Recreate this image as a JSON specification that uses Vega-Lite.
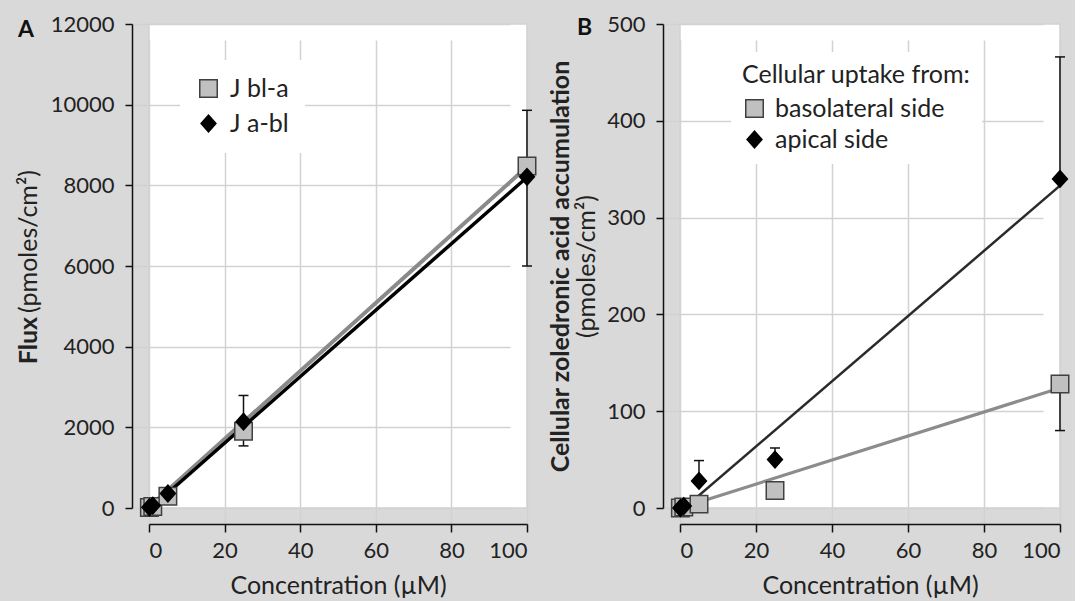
{
  "$schema": "https://vega.github.io/schema/vega-lite/v6.json",
  "background": "#d9d9d9",
  "padding": {"left": 15, "top": 12, "right": 2, "bottom": 2},
  "spacing": 7,
  "resolve": {"scale": {"shape": "independent", "fill": "independent", "stroke": "independent"}},
  "datasets": {
    "ptsA": [
      {"series": "J bl-a", "conc": 0.1, "value": 10, "err": null},
      {"series": "J bl-a", "conc": 1, "value": 40, "err": null},
      {"series": "J bl-a", "conc": 5, "value": 290, "err": null},
      {"series": "J bl-a", "conc": 25, "value": 1900, "err": 1540},
      {"series": "J bl-a", "conc": 100, "value": 8480, "err": 6000},
      {"series": "J a-bl", "conc": 0.1, "value": 20, "err": null},
      {"series": "J a-bl", "conc": 1, "value": 60, "err": null},
      {"series": "J a-bl", "conc": 5, "value": 360, "err": null},
      {"series": "J a-bl", "conc": 25, "value": 2140, "err": 2790},
      {"series": "J a-bl", "conc": 100, "value": 8210, "err": 9860}
    ],
    "fitA": [
      {"series": "J bl-a", "conc": 0.1, "value": 30},
      {"series": "J bl-a", "conc": 100, "value": 8460},
      {"series": "J a-bl", "conc": 0.1, "value": -30},
      {"series": "J a-bl", "conc": 100, "value": 8200}
    ],
    "ptsB": [
      {"series": "basolateral side", "conc": 0.1, "value": 0, "err": null},
      {"series": "basolateral side", "conc": 1, "value": 1, "err": null},
      {"series": "basolateral side", "conc": 5, "value": 4, "err": null},
      {"series": "basolateral side", "conc": 25, "value": 18, "err": null},
      {"series": "basolateral side", "conc": 100, "value": 128, "err": 80},
      {"series": "apical side", "conc": 0.1, "value": 0, "err": null},
      {"series": "apical side", "conc": 1, "value": 2, "err": null},
      {"series": "apical side", "conc": 5, "value": 28, "err": 49},
      {"series": "apical side", "conc": 25, "value": 50, "err": 62},
      {"series": "apical side", "conc": 100, "value": 340, "err": 466}
    ],
    "fitB": [
      {"series": "basolateral side", "conc": 0.1, "value": 0},
      {"series": "basolateral side", "conc": 100, "value": 124},
      {"series": "apical side", "conc": 0.1, "value": -3.5},
      {"series": "apical side", "conc": 100, "value": 333}
    ]
  },
  "hconcat": [
    {
      "width": 378,
      "height": 484,
      "title": {"text": "A", "anchor": "start", "frame": "bounds", "fontSize": 23, "fontWeight": "bold", "font": "Lato", "color": "#111", "baseline": "top", "offset": -22, "dx": 2, "dy": 7},
      "resolve": {"axis": {"y": "independent"}},
      "layer": [
        {
          "encoding": {
            "x": {"field": "conc", "type": "quantitative", "scale": {"domain": [0, 100], "nice": false}, "axis": {"values": [0, 20, 40, 60, 80, 100], "title": "Concentration (µM)"}},
            "y": {"field": "value", "type": "quantitative", "scale": {"domain": [0, 12000], "nice": false}, "axis": {"orient": "left", "values": [0, 2000, 4000, 6000, 8000, 10000, 12000], "format": "d", "title": "(pmoles/cm²)", "titleX": -91, "titleY": 217}}
          },
          "layer": [
            {"data": {"name": "fitA"}, "transform": [{"filter": "datum.series === 'J bl-a'"}], "mark": {"type": "line", "color": "#8a8a8a", "strokeWidth": 4, "clip": false}},
            {"data": {"name": "fitA"}, "transform": [{"filter": "datum.series === 'J a-bl'"}], "mark": {"type": "line", "color": "#000000", "strokeWidth": 3.5, "clip": false}},
            {"data": {"name": "ptsA"}, "transform": [{"filter": "datum.err != null"}], "mark": {"type": "rule", "color": "#111", "strokeWidth": 1.5}, "encoding": {"y2": {"field": "err"}}},
            {"data": {"name": "ptsA"}, "transform": [{"filter": "datum.err != null"}], "mark": {"type": "tick", "orient": "horizontal", "size": 10, "thickness": 1.5, "color": "#111", "opacity": 1}, "encoding": {"y": {"field": "err", "type": "quantitative"}}},
            {
              "data": {"name": "ptsA"},
              "mark": {"type": "point", "filled": true, "opacity": 1, "strokeWidth": 1.5, "size": 306, "clip": false},
              "encoding": {
                "shape": {"field": "series", "type": "nominal", "scale": {"domain": ["J bl-a", "J a-bl"], "range": ["square", "M-0.85,0L0,-0.95L0.85,0L0,0.95Z"]}, "legend": {"title": null, "orient": "none", "legendX": 31, "legendY": 36, "fillColor": "white", "padding": 16, "symbolSize": 306, "symbolStrokeWidth": 1.5, "rowPadding": 9, "labelOffset": 9, "labelLimit": 300}},
                "fill": {"field": "series", "type": "nominal", "scale": {"domain": ["J bl-a", "J a-bl"], "range": ["#c0c0c0", "#000000"]}},
                "stroke": {"field": "series", "type": "nominal", "scale": {"domain": ["J bl-a", "J a-bl"], "range": ["#404040", "#000000"]}}
              }
            }
          ]
        },
        {
          "data": {"name": "ptsA"},
          "mark": {"type": "point", "opacity": 0},
          "encoding": {
            "x": {"field": "conc", "type": "quantitative", "scale": {"domain": [0, 100], "nice": false}, "axis": {"values": [0, 20, 40, 60, 80, 100], "title": "Concentration (µM)"}},
            "y": {"field": "value", "type": "quantitative", "scale": {"domain": [0, 12000], "nice": false}, "axis": {"orient": "left", "title": "Flux", "titleFontWeight": "bold", "labels": false, "ticks": false, "domain": false, "grid": false, "titleX": -91, "titleY": 316}}
          }
        }
      ]
    },
    {
      "width": 380,
      "height": 484,
      "title": {"text": "B", "anchor": "start", "frame": "bounds", "fontSize": 23, "fontWeight": "bold", "font": "Lato", "color": "#111", "baseline": "top", "offset": -22, "dx": 29, "dy": 5},
      "resolve": {"axis": {"y": "independent"}},
      "layer": [
        {
          "encoding": {
            "x": {"field": "conc", "type": "quantitative", "scale": {"domain": [0, 100], "nice": false}, "axis": {"values": [0, 20, 40, 60, 80, 100], "title": "Concentration (µM)"}},
            "y": {"field": "value", "type": "quantitative", "scale": {"domain": [0, 500], "nice": false}, "axis": {"orient": "left", "values": [0, 100, 200, 300, 400, 500], "title": "(pmoles/cm²)", "titleX": -64}}
          },
          "layer": [
            {"data": {"name": "fitB"}, "transform": [{"filter": "datum.series === 'basolateral side'"}], "mark": {"type": "line", "color": "#8c8c8c", "strokeWidth": 3.2, "clip": false}},
            {"data": {"name": "fitB"}, "transform": [{"filter": "datum.series === 'apical side'"}], "mark": {"type": "line", "color": "#2a2a2a", "strokeWidth": 2.5, "clip": false}},
            {"data": {"name": "ptsB"}, "transform": [{"filter": "datum.err != null"}], "mark": {"type": "rule", "color": "#111", "strokeWidth": 1.5}, "encoding": {"y2": {"field": "err"}}},
            {"data": {"name": "ptsB"}, "transform": [{"filter": "datum.err != null"}], "mark": {"type": "tick", "orient": "horizontal", "size": 10, "thickness": 1.5, "color": "#111", "opacity": 1}, "encoding": {"y": {"field": "err", "type": "quantitative"}}},
            {
              "data": {"name": "ptsB"},
              "mark": {"type": "point", "filled": true, "opacity": 1, "strokeWidth": 1.5, "size": 306, "clip": false},
              "encoding": {
                "shape": {"field": "series", "type": "nominal", "scale": {"domain": ["basolateral side", "apical side"], "range": ["square", "M-0.85,0L0,-0.95L0.85,0L0,0.95Z"]}, "legend": {"title": "Cellular uptake from:", "orient": "none", "legendX": 51, "legendY": 28, "fillColor": "white", "padding": 11, "symbolSize": 306, "symbolStrokeWidth": 1.5, "rowPadding": 5, "labelOffset": 8, "titlePadding": 8, "labelLimit": 300, "titleLimit": 400}},
                "fill": {"field": "series", "type": "nominal", "scale": {"domain": ["basolateral side", "apical side"], "range": ["#c0c0c0", "#000000"]}},
                "stroke": {"field": "series", "type": "nominal", "scale": {"domain": ["basolateral side", "apical side"], "range": ["#404040", "#000000"]}}
              }
            }
          ]
        },
        {
          "data": {"name": "ptsB"},
          "mark": {"type": "point", "opacity": 0},
          "encoding": {
            "x": {"field": "conc", "type": "quantitative", "scale": {"domain": [0, 100], "nice": false}, "axis": {"values": [0, 20, 40, 60, 80, 100], "title": "Concentration (µM)"}},
            "y": {"field": "value", "type": "quantitative", "scale": {"domain": [0, 500], "nice": false}, "axis": {"orient": "left", "title": "Cellular zoledronic acid accumulation", "titleFontWeight": "bold", "labels": false, "ticks": false, "domain": false, "grid": false, "titleX": -90}}
          }
        }
      ]
    }
  ],
  "config": {
    "view": {"fill": "white", "stroke": "#d2d2d2", "strokeWidth": 1.5},
    "font": "Lato",
    "axis": {"labelFont": "Lato", "labelFontSize": 22, "labelColor": "#222", "titleFont": "Lato", "titleFontSize": 25, "titleFontWeight": "normal", "titleColor": "#222", "domainColor": "#111", "domainWidth": 1.5, "tickColor": "#111", "tickWidth": 1.5, "gridColor": "#d2d2d2", "gridWidth": 1.5},
    "axisX": {"offset": 16, "tickSize": 8, "labelPadding": 8, "titlePadding": 12},
    "axisY": {"offset": 17, "tickSize": 7, "labelPadding": 11, "titlePadding": 6},
    "legend": {"labelFont": "Lato", "labelFontSize": 25, "labelColor": "#222", "titleFont": "Lato", "titleFontSize": 25, "titleFontWeight": "normal", "titleColor": "#222"}
  }
}
